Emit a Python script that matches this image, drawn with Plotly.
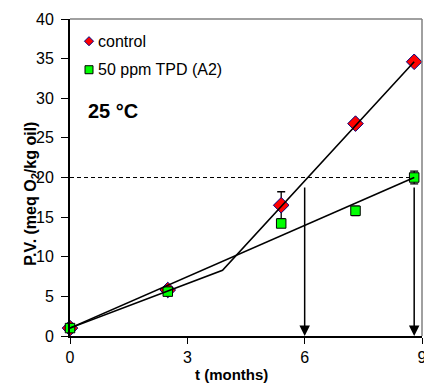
import plotly.graph_objects as go

# ---- data ----
months_control = [0, 2.5, 5.4, 7.3, 8.8]
pv_control = [1.0, 5.8, 16.5, 26.8, 34.6]
err_control = [None, None, 1.7, None, None]
months_tpd = [0, 2.5, 5.4, 7.3, 8.8]
pv_tpd = [1.0, 5.6, 14.2, 15.8, 20.0]
err_tpd = [None, None, None, 0.6, 0.8]
fit_control_x = [0, 3.9, 8.8]
fit_control_y = [1.0, 8.3, 34.6]
fit_tpd_x = [0, 8.8]
fit_tpd_y = [1.0, 20.0]
threshold_x = [0, 8.8]
threshold_pv = [20, 20]
shelf_life = [6.0, 8.8]
x_ticks = [0, 3, 6, 9]
y_ticks = [0, 5, 10, 15, 20, 25, 30, 35, 40]
legend_names = ["control", "50 ppm TPD (A2)"]
legend_y = [0.93, 0.84]
temp_label = "25 °C"

FONT = "Liberation Sans, Arial, sans-serif"
RED = "#FF0000"
GREEN = "#00FF00"
NAVY = "#000080"

fig = go.Figure()

fig.add_trace(go.Scatter(
    x=months_control, y=pv_control, mode="markers",
    marker=dict(symbol="diamond", size=12, color=RED, line=dict(color=NAVY, width=1)),
    error_y=dict(type="data", array=err_control, color="black", thickness=1.3, width=4),
    cliponaxis=False, showlegend=False))
fig.add_trace(go.Scatter(
    x=months_tpd, y=pv_tpd, mode="markers",
    marker=dict(symbol="square", size=9.5, color=GREEN, line=dict(color="black", width=1)),
    error_y=dict(type="data", array=err_tpd, color="black", thickness=1.3, width=4),
    cliponaxis=False, showlegend=False))
fig.add_trace(go.Scatter(
    x=fit_control_x, y=fit_control_y, mode="lines",
    line=dict(color="black", width=1.6), cliponaxis=False, showlegend=False))
fig.add_trace(go.Scatter(
    x=fit_tpd_x, y=fit_tpd_y, mode="lines",
    line=dict(color="black", width=1.6), cliponaxis=False, showlegend=False))
fig.add_trace(go.Scatter(
    x=threshold_x, y=threshold_pv, mode="lines",
    line=dict(color="black", width=1.2, dash="4px,3px"), showlegend=False))

# legend keys on an overlay paper-like axis
fig.add_trace(go.Scatter(
    x=[0.054], y=[legend_y[0]], mode="markers", xaxis="x2", yaxis="y2",
    marker=dict(symbol="diamond", size=7, color=RED, line=dict(color=NAVY, width=1)),
    showlegend=False, hoverinfo="skip"))
fig.add_trace(go.Scatter(
    x=[0.054], y=[legend_y[1]], mode="markers", xaxis="x2", yaxis="y2",
    marker=dict(symbol="square", size=8, color=GREEN, line=dict(color="black", width=1)),
    showlegend=False, hoverinfo="skip"))

annotations = []
for name, ly in zip(legend_names, legend_y):
    annotations.append(dict(xref="paper", yref="paper", x=0.075, y=ly, text=name,
                            showarrow=False, xanchor="left", yanchor="middle",
                            font=dict(family=FONT, size=16, color="black")))
annotations.append(dict(xref="paper", yref="paper", x=0.045, y=0.71, text="<b>" + temp_label + "</b>",
                        showarrow=False, xanchor="left", yanchor="middle",
                        font=dict(family=FONT, size=20, color="black")))
for sx, ty in zip(shelf_life, threshold_pv):
    annotations.append(dict(x=sx, y=0, xref="x", yref="y", ax=sx, ay=ty, axref="x", ayref="y",
                            showarrow=True, arrowhead=2, arrowsize=1.4, arrowwidth=1.5,
                            arrowcolor="black", standoff=0, text=" "))
annotations.append(dict(xref="paper", yref="paper", x=-0.11, y=0.45, textangle=-90,
                        text="<b>P.V. (meq O<sub>2</sub>/kg oil)</b>", showarrow=False,
                        xanchor="center", yanchor="middle",
                        font=dict(family=FONT, size=16, color="black")))
annotations.append(dict(xref="paper", yref="paper", x=0.46, y=-0.12,
                        text="<b>t (months)</b>", showarrow=False,
                        xanchor="center", yanchor="middle",
                        font=dict(family=FONT, size=15, color="black")))

shapes = [
    dict(type="line", xref="paper", yref="paper", x0=0, x1=1, y0=1, y1=1,
         line=dict(color="#808080", width=1.5)),
    dict(type="line", xref="paper", yref="paper", x0=1, x1=1, y0=0, y1=1,
         line=dict(color="#808080", width=1.5)),
]

fig.update_layout(
    width=424, height=383,
    margin=dict(l=70, r=2, t=19, b=47, autoexpand=False),
    paper_bgcolor="white", plot_bgcolor="white",
    font=dict(family=FONT, size=16, color="black"),
    xaxis=dict(range=[0, 9], tickvals=x_ticks, ticks="outside", ticklen=6, tickwidth=1,
               tickcolor="black", showline=True, linecolor="black", linewidth=2,
               showgrid=False, zeroline=False, tickfont=dict(size=16),
               ticklabeloverflow="allow", automargin=False),
    yaxis=dict(range=[0, 40], tickvals=y_ticks, ticks="outside", ticklen=7, tickwidth=1,
               tickcolor="black", showline=True, linecolor="black", linewidth=2,
               showgrid=False, zeroline=False, tickfont=dict(size=16), ticklabelstandoff=4,
               automargin=False),
    xaxis2=dict(range=[0, 1], overlaying="x", visible=False, fixedrange=True),
    yaxis2=dict(range=[0, 1], overlaying="y", visible=False, fixedrange=True),
    annotations=annotations, shapes=shapes,
    showlegend=False,
)

fig.write_html("out.html", config={"displayModeBar": False},
               post_script="document.body.style.margin='0';document.body.style.overflow='hidden';")
